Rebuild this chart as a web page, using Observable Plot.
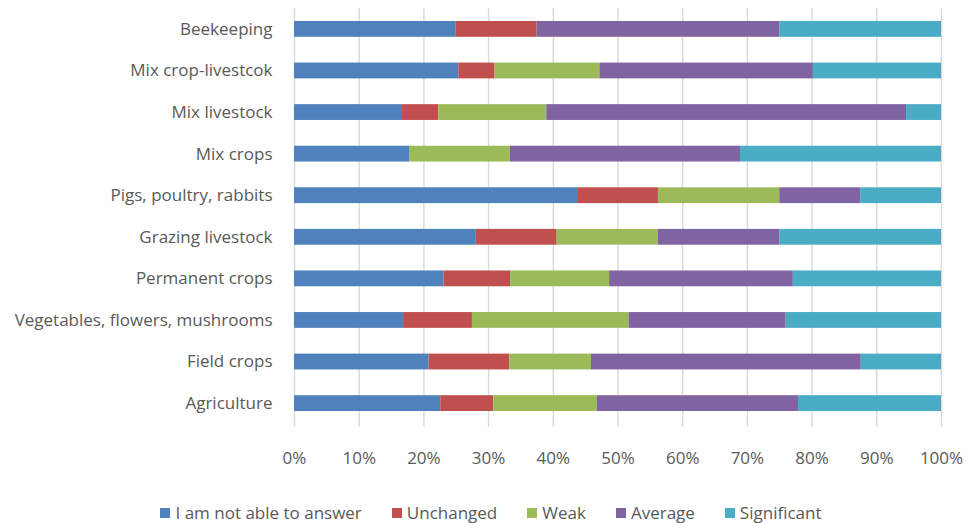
<!DOCTYPE html>
<html>
<head>
<meta charset="utf-8">
<script src="https://cdn.jsdelivr.net/npm/d3@7"></script>
<script src="https://cdn.jsdelivr.net/npm/@observablehq/plot@0.6"></script>
<style>
  body { margin: 0; background: #fff; font-family: "Open Sans", sans-serif; }
  #legend { display: flex; justify-content: center; gap: 30px; margin-top: 25px; padding-left: 16px;
            font-size: 17px; color: #595959; line-height: 20px; }
  #legend .item { display: flex; align-items: center; gap: 5px; }
  #legend .sw { width: 10px; height: 10px; display: inline-block; }
</style>
</head>
<body>
<div id="chart"></div>
<script>
const categories = ["Beekeeping","Mix crop-livestcok","Mix livestock","Mix crops","Pigs, poultry, rabbits","Grazing livestock","Permanent crops","Vegetables, flowers, mushrooms","Field crops","Agriculture"];
const series = ["I am not able to answer","Unchanged","Weak","Average","Significant"];
const colors = ["#4F81BD","#C0504D","#9BBB59","#8064A2","#4BACC6"];
const notAble     = [25.0, 25.4, 16.7, 17.8, 43.75, 28.1, 23.1, 17.0, 20.8, 22.6];
const unchanged   = [12.5,  5.6,  5.6,  0.0, 12.5,  12.5, 10.3, 10.5, 12.5,  8.2];
const weak        = [ 0.0, 16.2, 16.7, 15.6, 18.75, 15.6, 15.3, 24.2, 12.6, 16.0];
const average     = [37.5, 33.0, 55.6, 35.6, 12.5,  18.8, 28.4, 24.3, 41.7, 31.1];
const significant = [25.0, 19.8,  5.4, 31.1, 12.5,  25.0, 22.9, 24.0, 12.4, 22.1];
const xTicks = [0,0.1,0.2,0.3,0.4,0.5,0.6,0.7,0.8,0.9,1];

const valuesBySeries = [notAble, unchanged, weak, average, significant];
const data = [];
series.forEach((s, i) => categories.forEach((c, j) => data.push({category: c, series: s, value: valuesBySeries[i][j]})));

const plot = Plot.plot({
  width: 966,
  height: 478,
  marginLeft: 294,
  marginRight: 25,
  marginTop: 5,
  marginBottom: 51,
  style: {fontFamily: "Open Sans, sans-serif", fontSize: "17px", color: "#595959", background: "#fff"},
  x: {domain: [0, 1], axis: null, label: null},
  y: {domain: categories, paddingInner: 0.62, paddingOuter: 0.385, round: false, axis: null, label: null},
  color: {domain: series, range: colors},
  marks: [
    Plot.ruleX(xTicks, {stroke: "#d9d9d9", strokeWidth: 1.4, insetTop: 3}),
    Plot.barX(data, Plot.stackX({x: "value", y: "category", fill: "series", order: series, offset: "normalize"})),
    Plot.axisX(xTicks, {tickSize: 0, tickPadding: 24, tickFormat: d3.format(".0%"), fontSize: 17, label: null}),
    Plot.axisY({tickSize: 0, tickPadding: 22, fontSize: 17, label: null})
  ]
});
document.getElementById("chart").appendChild(plot);

const legend = document.createElement("div");
legend.id = "legend";
series.forEach((s, i) => {
  const item = document.createElement("div");
  item.className = "item";
  const sw = document.createElement("span");
  sw.className = "sw";
  sw.style.background = colors[i];
  const t = document.createElement("span");
  t.textContent = s;
  item.appendChild(sw); item.appendChild(t);
  legend.appendChild(item);
});
document.body.appendChild(legend);
</script>
</body>
</html>
